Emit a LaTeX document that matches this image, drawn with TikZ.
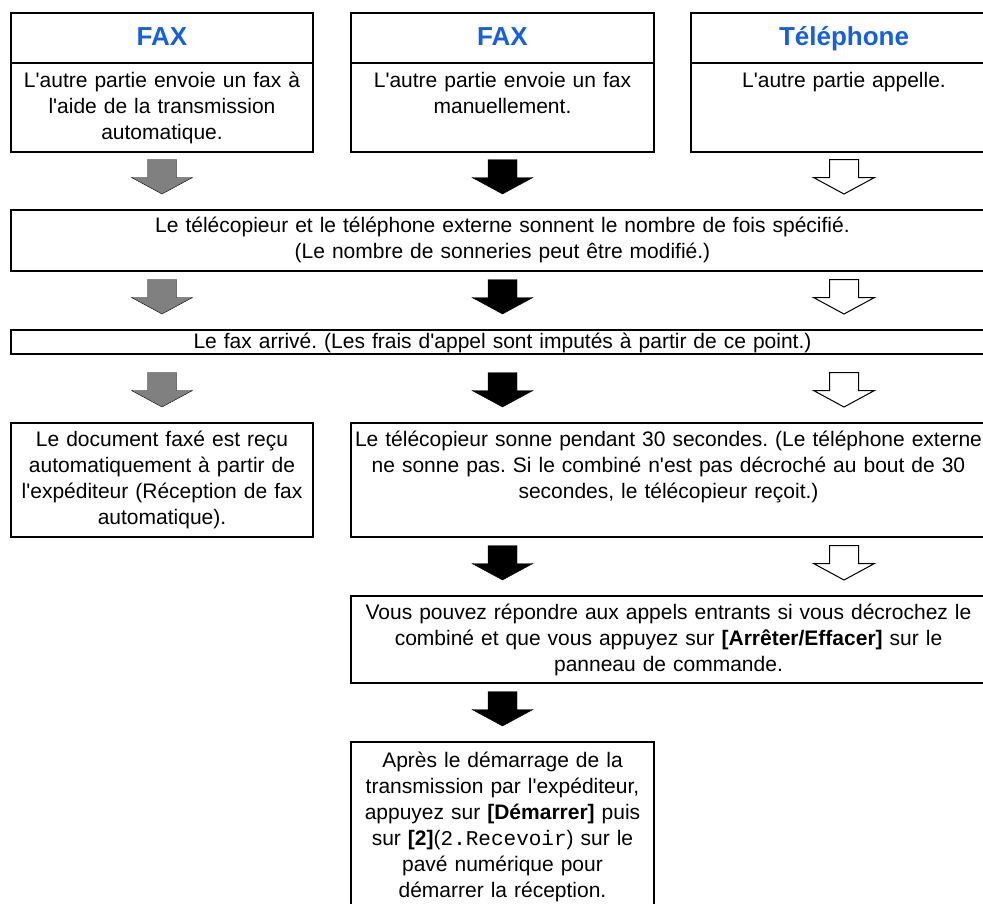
\documentclass[tikz,border=0pt]{standalone}
\usepackage{fontspec}
\usetikzlibrary{calc,positioning}
\newfontfamily\arialfont{Liberation Sans}
\newfontfamily\courierfont{Liberation Mono}
\definecolor{faxblue}{RGB}{20,95,230}
\definecolor{arrowgrey}{RGB}{128,128,128}
\newcommand{\fatarrow}[3]% style, target box, column
{\draw[#1] ($(#2.north -| #3)+(0,-16)$) -- ++(-30.5,-16.5) -- ++(16,0) -- ++(0,-18)
  -- ++(29,0) -- ++(0,18) -- ++(16,0) -- cycle;
}
\tikzset{
  box/.style={draw, line width=2pt, outer sep=0pt, inner sep=0pt, align=center,
    font=\arialfont\fontsize{21}{26}\selectfont\frenchspacing},
  head/.style={box, text=faxblue, font=\arialfont\bfseries\fontsize{26}{30}\selectfont,
    text height=32pt, text depth=18pt},
  greyarrow/.style={fill=arrowgrey},
  blackarrow/.style={fill=black},
  whitearrow/.style={fill=white, draw=black, line width=1pt, line join=miter}
}

\begin{document}
\begin{tikzpicture}[x=1pt,y=-1pt]
  \useasboundingbox (0,0) rectangle (983,903);
  \clip (0,0) rectangle (983,903);
  % three starting cases
  \node[head, text width=302pt, anchor=north west] (t1h) at (11,13) {FAX};
  \node[box, text width=302pt, text height=24pt, text depth=65pt, below=0pt of t1h] (t1b)
    {L'autre partie envoie un fax à\\l'aide de la transmission\\automatique.};
  \node[head, text width=303pt, anchor=north west] (t2h) at (351,13) {FAX};
  \node[box, text width=303pt, text height=24pt, text depth=65pt, below=0pt of t2h] (t2b)
    {L'autre partie envoie un fax\\manuellement.};
  \node[head, text width=306pt, anchor=north west] (t3h) at (691,13) {Téléphone};
  \node[box, text width=306pt, text height=24pt, text depth=65pt, below=0pt of t3h] (t3b)
    {L'autre partie appelle.};
  % common steps
  \node[box, text width=983pt, text height=22pt, text depth=39pt, anchor=north west] (ring) at (11,210)
    {Le télécopieur et le téléphone externe sonnent le nombre de fois spécifié.\\(Le nombre de sonneries peut être modifié.)};
  \node[box, text width=983pt, text height=18pt, text depth=6pt, anchor=north west] (arrive) at (11,330)
    {Le fax arrivé. (Les frais d'appel sont imputés à partir de ce point.)};
  % reception
  \node[box, text width=302pt, text height=23pt, text depth=91pt, anchor=north west] (auto) at (11,423)
    {Le document faxé est reçu\\automatiquement à partir de\\l'expéditeur (Réception de fax\\automatique).};
  \node[box, text width=635pt, text height=23pt, text depth=91pt, anchor=north west] (ring30) at (351,423)
    {Le télécopieur sonne pendant 30 secondes. (Le téléphone externe\\ne sonne pas. Si le combiné n'est pas décroché au bout de 30\\secondes, le télécopieur reçoit.)};
  \node[box, text width=635pt, text height=23pt, text depth=64pt, anchor=north west] (answer) at (351,596)
    {Vous pouvez répondre aux appels entrants si vous décrochez le\\combiné et que vous appuyez sur \textbf{[Arrêter/Effacer]} sur le\\panneau de commande.};
  \node[box, text width=303pt, text height=25pt, text depth=166pt, anchor=north west] (start) at (351,742)
    {Après le démarrage de la\\transmission par l'expéditeur,\\appuyez sur \textbf{[Démarrer]} puis\\sur \textbf{[2]}({\courierfont 2.Recevoir}) sur le\\pavé numérique pour\\démarrer la réception.};
  % arrows
  \fatarrow{greyarrow}{ring}{t1h}
  \fatarrow{blackarrow}{ring}{t2h}
  \fatarrow{whitearrow}{ring}{t3h}
  \fatarrow{greyarrow}{arrive}{t1h}
  \fatarrow{blackarrow}{arrive}{t2h}
  \fatarrow{whitearrow}{arrive}{t3h}
  \fatarrow{greyarrow}{auto}{t1h}
  \fatarrow{blackarrow}{ring30}{t2h}
  \fatarrow{whitearrow}{ring30}{t3h}
  \fatarrow{blackarrow}{answer}{t2h}
  \fatarrow{whitearrow}{answer}{t3h}
  \fatarrow{blackarrow}{start}{t2h}
\end{tikzpicture}
\end{document}
